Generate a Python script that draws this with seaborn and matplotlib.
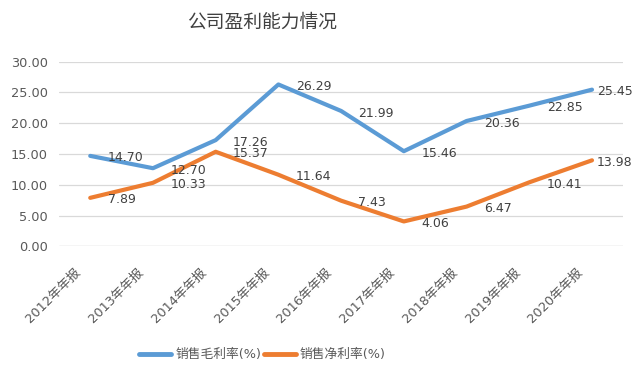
import matplotlib
matplotlib.use('Agg')
import matplotlib.pyplot as plt
import matplotlib.transforms as mtransforms
import seaborn as sns
import pandas as pd

# data
years = ['2012年年报', '2013年年报', '2014年年报', '2015年年报', '2016年年报',
         '2017年年报', '2018年年报', '2019年年报', '2020年年报']
gross_margin = [14.70, 12.70, 17.26, 26.29, 21.99, 15.46, 20.36, 22.85, 25.45]
net_margin = [7.89, 10.33, 15.37, 11.64, 7.43, 4.06, 6.47, 10.41, 13.98]
series_names = ['销售毛利率(%)', '销售净利率(%)']
colors = ['#5B9BD5', '#ED7D31']

sns.set_theme(style='white')
plt.rcParams['font.family'] = ['DejaVu Sans', 'Noto Sans CJK SC']

df = pd.DataFrame({
    'year': years * 2,
    'value': gross_margin + net_margin,
    'series': [series_names[0]] * len(years) + [series_names[1]] * len(years),
})
df['x'] = list(range(len(years))) * 2

fig = plt.figure(figsize=(6.4, 3.78), dpi=100)
ax = fig.add_axes([0.092, 0.348, 0.882, 0.489])

sns.lineplot(data=df, x='x', y='value', hue='series', palette=colors,
             linewidth=3.0, ax=ax, legend=False)

# data labels (last point pulled in so it stays inside the chart)
last = len(years) - 1
for vals in (gross_margin, net_margin):
    for i, v in enumerate(vals):
        dx = 3.5 if i == last else 12.5
        ax.annotate(f'{v:.2f}', (i, v), xytext=(dx, -1.5), textcoords='offset points',
                    ha='left', va='center', fontsize=9, color='#404040')

ax.set_xlim(-0.5, len(years) - 0.5)
ax.set_ylim(0, 30)
ax.set_yticks(range(0, 31, 5))
ax.set_yticklabels([f'{t:.2f}' for t in range(0, 31, 5)], color='#595959', fontsize=9.3)
ax.set_xticks(range(len(years)))
ax.set_xticklabels(years, rotation=45, ha='right', rotation_mode='anchor',
                   color='#595959', fontsize=9.3,
                   family=['DejaVu Sans', 'Noto Sans CJK SC'])
ax.tick_params(axis='y', length=0, pad=8)
ax.tick_params(axis='x', length=0, pad=4)
shift = mtransforms.ScaledTranslation(-16 / 100, -14 / 100, fig.dpi_scale_trans)
for lab in ax.get_xticklabels():
    lab.set_transform(lab.get_transform() + shift)
ax.yaxis.grid(True, color='#d9d9d9', linewidth=0.9)
ax.set_xlabel('')
ax.set_ylabel('')
for s in ax.spines.values():
    s.set_visible(False)
ax.axhline(0, color='#d9d9d9', linewidth=0.9)

fig.text(0.41, 0.94, '公司盈利能力情况', ha='center', va='center', fontsize=13.5,
         color='#404040', family=['Noto Sans CJK SC'], fontweight='medium')

handles = [plt.Line2D([], [], color=c, linewidth=3.5) for c in colors]
fig.legend(handles, series_names, loc='center', bbox_to_anchor=(0.41, 0.061),
           ncol=2, frameon=False, handlelength=2.5,
           columnspacing=0.2, handletextpad=0.3, labelcolor='#595959',
           prop={'family': ['DejaVu Sans', 'Noto Sans CJK SC'], 'size': 9.2})

fig.savefig('out.png', dpi=100, facecolor='white')
